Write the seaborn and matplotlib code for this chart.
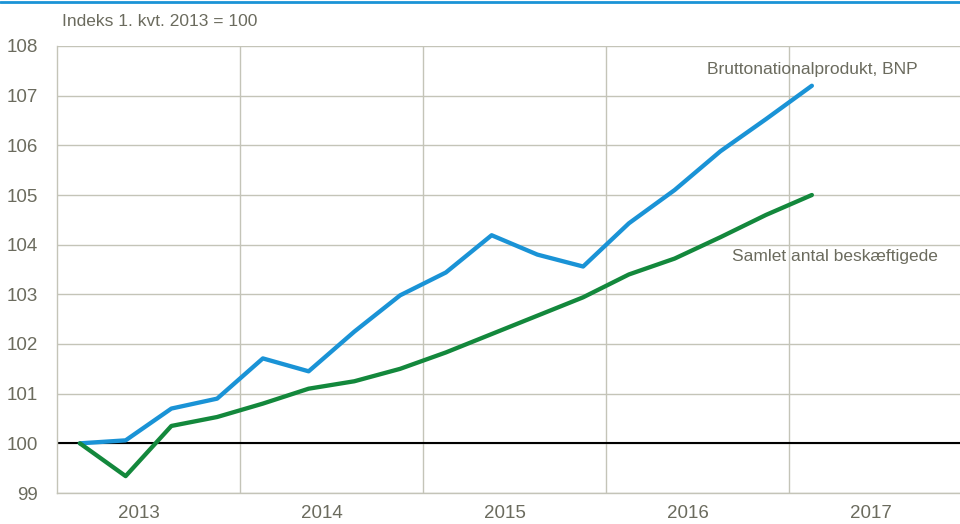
import numpy as np
import pandas as pd
import matplotlib
matplotlib.use("Agg")
import matplotlib.pyplot as plt
import seaborn as sns
from matplotlib import font_manager

quarters = [f"{y}K{q}" for y in range(2013, 2017) for q in range(1, 5)] + ["2017K1"]
bnp = [100.0, 100.06, 100.7, 100.9, 101.71, 101.45, 102.25, 102.98,
       103.44, 104.19, 103.8, 103.56, 104.43, 105.1, 105.88, 106.53, 107.2]
beskaeftigede = [100.0, 99.34, 100.35, 100.53, 100.8, 101.1, 101.25, 101.5,
                 101.83, 102.2, 102.57, 102.94, 103.4, 103.72, 104.15, 104.6, 105.0]
years = ["2013", "2014", "2015", "2016", "2017"]
series_names = ["Bruttonationalprodukt, BNP", "Samlet antal beskæftigede"]

names = {f.name for f in font_manager.fontManager.ttflist}
font = "Liberation Sans Narrow" if "Liberation Sans Narrow" in names else "Liberation Sans"

sns.set_style("white")
plt.rcParams["font.family"] = [font, "DejaVu Sans"]

txt = "#6b6b5e"
grid = "#c4c4b8"
colors = {series_names[0]: "#1a93d6", series_names[1]: "#13883c"}

df = pd.DataFrame({
    "x": list(range(len(quarters))) * 2,
    "value": bnp + beskaeftigede,
    "serie": [series_names[0]] * len(bnp) + [series_names[1]] * len(beskaeftigede),
})

fig = plt.figure(figsize=(9.6, 5.24), dpi=100)
ax = fig.add_axes([57 / 960, 31 / 524, 915 / 960, 447 / 524])

sns.lineplot(data=df, x="x", y="value", hue="serie", palette=colors,
             linewidth=3.1, legend=False, ax=ax, zorder=3,
             solid_capstyle="round")

ax.set_xlim(-0.5, 19.5)
ax.set_ylim(99, 108)
ax.set_yticks(range(99, 109))
ax.set_xticks([1.3 + 4 * i for i in range(len(years))])
ax.set_xticklabels(years)
ax.set_xticks([3.5, 7.5, 11.5, 15.5], minor=True)
ax.tick_params(axis="both", which="both", length=0, labelsize=13.5, colors=txt)
ax.tick_params(axis="x", pad=9)
ax.tick_params(axis="y", pad=14)
ax.grid(True, axis="y", which="major", color=grid, linewidth=1)
ax.grid(True, axis="x", which="minor", color=grid, linewidth=1)
ax.axhline(100, color="black", linewidth=1.5, zorder=2)
for s in ["left", "bottom"]:
    ax.spines[s].set_color(grid)
    ax.spines[s].set_linewidth(1)
for s in ["top", "right"]:
    ax.spines[s].set_visible(False)
ax.set_xlabel("")
ax.set_ylabel("")

ax.text(18.32, 107.52, series_names[0], ha="right", va="center", fontsize=12.5, color=txt)
ax.text(18.76, 103.77, series_names[1], ha="right", va="center", fontsize=12.5, color=txt)
fig.text(62 / 960, 1 - 22 / 524, "Indeks 1. kvt. 2013 = 100", ha="left", va="center",
         fontsize=12.5, color=txt)

fig.add_artist(plt.Line2D([0, 1], [1 - 2 / 524, 1 - 2 / 524], color="#1a93d6", linewidth=2))

fig.savefig("out.png", dpi=100)
